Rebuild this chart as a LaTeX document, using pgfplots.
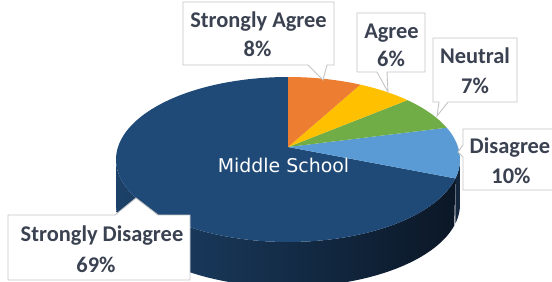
\documentclass[border=0pt]{standalone}
\usepackage{pgfplots}
\pgfplotsset{compat=1.18}
\usepackage{fontspec}
\setmainfont{Carlito}
\newfontfamily\dejavu{DejaVu Sans}
\definecolor{cSA}{HTML}{ED7D31}
\definecolor{cA}{HTML}{FFC000}
\definecolor{cN}{HTML}{70AD47}
\definecolor{cD}{HTML}{5B9BD5}
\definecolor{cSD}{HTML}{1F4A77}
\definecolor{sideL}{HTML}{1C4168}
\definecolor{sideM}{HTML}{132E4C}
\definecolor{sideR}{HTML}{0B1726}
\definecolor{sideD}{HTML}{14273D}
\definecolor{bord}{HTML}{C4C4C4}
\definecolor{txt}{HTML}{3A4150}
% shares in percent
\def\vSA{8}\def\vA{6}\def\vN{7}\def\vD{10}\def\vSD{69}
\pgfmathsetmacro\aA{90-3.6*\vSA}
\pgfmathsetmacro\aB{\aA-3.6*\vA}
\pgfmathsetmacro\aC{\aB-3.6*\vN}
\pgfmathsetmacro\aD{\aC-3.6*\vD}
\pgfmathsetmacro\aE{\aD-3.6*\vSD}
\newcommand\lab{\fontsize{22.5}{29}\selectfont\bfseries\color{txt}}
\begin{document}
\begin{tikzpicture}
\begin{axis}[width=552bp, height=282bp, scale only axis,
  xmin=0, xmax=552, ymin=0, ymax=282, y dir=reverse,
  hide axis, clip=false,
  declare function={
    px(\t)=288+170*cos(\t)/(1+0.1515*sin(\t));
    py(\t)=147-80.6*sin(\t)/(1+0.1515*sin(\t));
    sa(\t,\a,\b)=(\t<1.001)*(\a+(\b-\a)*\t)+(\t>=1.001)*(\b-(\b-\a)*(\t-1));
  }]
\coordinate (ll) at (axis cs:0,282);
\coordinate (ur) at (axis cs:552,0);
% sides
\addplot[draw=none, left color=sideL, middle color=sideM, right color=sideR,
  domain=0:2, samples=201, variable=\t]
  ({px(sa(\t,-171.3,\aD))}, {py(sa(\t,-171.3,\aD))+45*(\t>=1.001)}) -- cycle;
\addplot[draw=none, fill=sideD, domain=0:2, samples=41, variable=\t]
  ({px(sa(\t,\aD,-8.7))}, {py(sa(\t,\aD,-8.7))+45*(\t>=1.001)}) -- cycle;
% top wedges
\addplot[draw=none, fill=cSD, domain=\aE:\aD, samples=150, variable=\t]
  ({px(\t)},{py(\t)}) -- (axis cs:288,147) -- cycle;
\addplot[draw=none, fill=cD, domain=\aD:\aC, samples=30, variable=\t]
  ({px(\t)},{py(\t)}) -- (axis cs:288,147) -- cycle;
\addplot[draw=none, fill=cN, domain=\aC:\aB, samples=30, variable=\t]
  ({px(\t)},{py(\t)}) -- (axis cs:288,147) -- cycle;
\addplot[draw=none, fill=cA, domain=\aB:\aA, samples=30, variable=\t]
  ({px(\t)},{py(\t)}) -- (axis cs:288,147) -- cycle;
\addplot[draw=none, fill=cSA, domain=\aA:90, samples=30, variable=\t]
  ({px(\t)},{py(\t)}) -- (axis cs:288,147) -- cycle;
\node[anchor=base, text=white, font=\dejavu\fontsize{19}{23}\selectfont] at (axis cs:283.5,172) {Middle School};
% labels
\draw[bord, fill=white, line width=0.9pt] (axis cs:183,2) -- (axis cs:334,2) -- (axis cs:334,65) -- (axis cs:327,65) -- (axis cs:323,80) -- (axis cs:308,65) -- (axis cs:183,65) -- cycle;
\node[anchor=base, font=\lab] at (axis cs:258.5,28) {Strongly Agree};
\node[anchor=base, font=\lab] at (axis cs:257.5,57) {8\%};
\draw[bord, fill=white, line width=0.9pt] (axis cs:357,13) -- (axis cs:425,13) -- (axis cs:425,72) -- (axis cs:387,72) -- (axis cs:388,92) -- (axis cs:377,72) -- (axis cs:357,72) -- cycle;
\node[anchor=base, font=\lab] at (axis cs:391.5,39) {Agree};
\node[anchor=base, font=\lab] at (axis cs:391,67) {6\%};
\draw[bord, fill=white, line width=0.9pt] (axis cs:433,38) -- (axis cs:517,38) -- (axis cs:517,102) -- (axis cs:448,102) -- (axis cs:437,116) -- (axis cs:439,102) -- (axis cs:433,102) -- cycle;
\node[anchor=base, font=\lab] at (axis cs:475,64) {Neutral};
\node[anchor=base, font=\lab] at (axis cs:475,93) {7\%};
\draw[bord, fill=white, line width=0.9pt] (axis cs:463,129) -- (axis cs:560,129) -- (axis cs:560,190) -- (axis cs:463,190) -- (axis cs:463,157) -- (axis cs:458,152) -- (axis cs:463,145) -- cycle;
\node[anchor=base, font=\lab] at (axis cs:510,153) {Disagree};
\node[anchor=base, font=\lab] at (axis cs:511,183) {10\%};
\draw[bord, fill=white, line width=0.9pt] (axis cs:8,215) -- (axis cs:115,215) -- (axis cs:136,198) -- (axis cs:158,215) -- (axis cs:190,215) -- (axis cs:190,280) -- (axis cs:8,280) -- cycle;
\node[anchor=base, font=\lab] at (axis cs:102,241) {Strongly Disagree};
\node[anchor=base, font=\lab] at (axis cs:96,272) {69\%};
\end{axis}
\pgfresetboundingbox
\useasboundingbox (ll) rectangle (ur);
\end{tikzpicture}
\end{document}
